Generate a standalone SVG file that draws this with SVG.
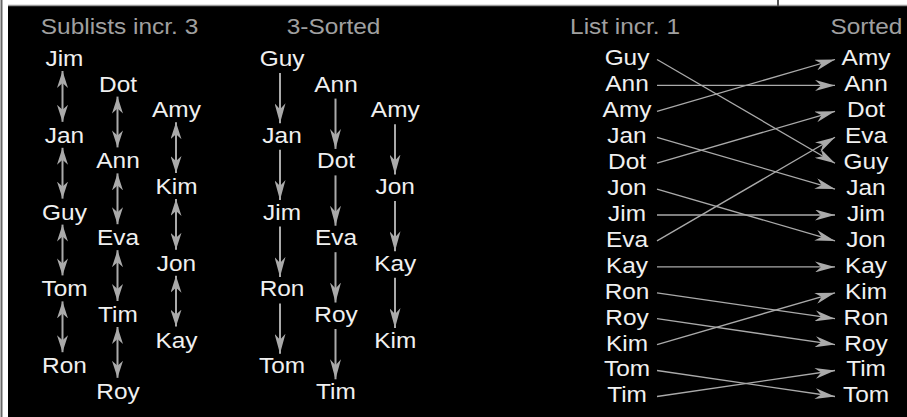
<svg xmlns="http://www.w3.org/2000/svg" width="907" height="417" viewBox="0 0 907 417">
<style>
.nm{font-family:"Liberation Sans",Arial,Helvetica,sans-serif;font-size:22px;fill:#f0f0f0;text-anchor:middle}
.hd{font-family:"Liberation Sans",Arial,Helvetica,sans-serif;font-size:22px;fill:#a0a0a0;text-anchor:middle}
.l1{stroke:#aaa;stroke-width:2;fill:none}
.l3{stroke:#aaa;stroke-width:1.3;fill:none}
.d{marker-start:url(#m1);marker-end:url(#m1)}
.s{marker-end:url(#m2)}
</style>
<defs>
<marker id="m1" markerUnits="userSpaceOnUse" viewBox="0 0 17 11" markerWidth="17" markerHeight="11" refX="17" refY="5.5" orient="auto-start-reverse"><path d="M17,5.5 L0,0 L5,5.5 L0,11 Z" fill="#aaa"/></marker>
<marker id="m2" markerUnits="userSpaceOnUse" viewBox="0 0 20 11" markerWidth="20" markerHeight="11" refX="20" refY="5.5" orient="auto"><path d="M20,5.5 L0,0 L6,5.5 L0,11 Z" fill="#aaa"/></marker>
</defs>
<rect width="907" height="417" fill="#fff"/>
<line x1="1.5" y1="0" x2="1.5" y2="417" stroke="#666" stroke-width="2"/>
<rect x="8" y="6" width="899" height="411" fill="#000"/>
<line x1="8" y1="5.5" x2="907" y2="5.5" stroke="#999" stroke-width="1.5"/>
<line x1="778" y1="0" x2="778" y2="6" stroke="#555" stroke-width="2"/>
<g id="connectors">
<g id="sublists">
<line class="l1 d" x1="62.5" y1="71" x2="62.5" y2="121.8"/>
<line class="l1 d" x1="62.5" y1="147.8" x2="62.5" y2="198.6"/>
<line class="l1 d" x1="62.5" y1="224.6" x2="62.5" y2="275.4"/>
<line class="l1 d" x1="62.5" y1="301.4" x2="62.5" y2="352.2"/>
<line class="l1 d" x1="117.5" y1="96.6" x2="117.5" y2="147.4"/>
<line class="l1 d" x1="117.5" y1="173.4" x2="117.5" y2="224.2"/>
<line class="l1 d" x1="117.5" y1="250.2" x2="117.5" y2="301"/>
<line class="l1 d" x1="117.5" y1="327" x2="117.5" y2="377.8"/>
<line class="l1 d" x1="176" y1="122.2" x2="176" y2="173"/>
<line class="l1 d" x1="176" y1="199" x2="176" y2="249.8"/>
<line class="l1 d" x1="176" y1="275.8" x2="176" y2="326.6"/>
</g>
<g id="sorted3">
<line class="l1 s" x1="280" y1="73" x2="280" y2="123.3"/>
<line class="l1 s" x1="280" y1="149.8" x2="280" y2="200.1"/>
<line class="l1 s" x1="280" y1="226.6" x2="280" y2="276.9"/>
<line class="l1 s" x1="280" y1="303.4" x2="280" y2="353.7"/>
<line class="l1 s" x1="335.5" y1="98.6" x2="335.5" y2="148.9"/>
<line class="l1 s" x1="335.5" y1="175.4" x2="335.5" y2="225.7"/>
<line class="l1 s" x1="335.5" y1="252.2" x2="335.5" y2="302.5"/>
<line class="l1 s" x1="335.5" y1="329" x2="335.5" y2="379.3"/>
<line class="l1 s" x1="395" y1="124.2" x2="395" y2="174.5"/>
<line class="l1 s" x1="395" y1="201" x2="395" y2="251.3"/>
<line class="l1 s" x1="395" y1="277.8" x2="395" y2="328.1"/>
</g>
<g id="final">
<line class="l3 s" x1="657" y1="59.5" x2="835" y2="163.2"/>
<line class="l3 s" x1="657" y1="85.4" x2="835" y2="85.4"/>
<line class="l3 s" x1="657" y1="111.3" x2="835" y2="59.5"/>
<line class="l3 s" x1="657" y1="137.3" x2="835" y2="189.1"/>
<line class="l3 s" x1="657" y1="163.2" x2="835" y2="111.3"/>
<line class="l3 s" x1="657" y1="189.1" x2="835" y2="240.9"/>
<line class="l3 s" x1="657" y1="215" x2="835" y2="215"/>
<line class="l3 s" x1="657" y1="240.9" x2="835" y2="137.3"/>
<line class="l3 s" x1="657" y1="266.9" x2="835" y2="266.9"/>
<line class="l3 s" x1="657" y1="292.8" x2="835" y2="318.7"/>
<line class="l3 s" x1="657" y1="318.7" x2="835" y2="344.6"/>
<line class="l3 s" x1="657" y1="344.6" x2="835" y2="292.8"/>
<line class="l3 s" x1="657" y1="370.5" x2="835" y2="396.5"/>
<line class="l3 s" x1="657" y1="396.5" x2="835" y2="370.5"/>
</g>
</g>
<g transform="scale(1.11 1)">
<g id="headers">
<text class="hd" x="107.7" y="34">Sublists incr. 3</text>
<text class="hd" x="300.5" y="34">3-Sorted</text>
<text class="hd" x="563.1" y="34">List incr. 1</text>
<text class="hd" x="780.6" y="34">Sorted</text>
</g>
<g id="c1-jim"><text class="nm" x="58.1" y="66">Jim</text></g>
<g id="c1-dot"><text class="nm" x="106.3" y="91.6">Dot</text></g>
<g id="c1-amy"><text class="nm" x="159" y="117.2">Amy</text></g>
<g id="c1-jan"><text class="nm" x="58.1" y="142.8">Jan</text></g>
<g id="c1-ann"><text class="nm" x="106.3" y="168.4">Ann</text></g>
<g id="c1-kim"><text class="nm" x="159" y="194">Kim</text></g>
<g id="c1-guy"><text class="nm" x="58.1" y="219.6">Guy</text></g>
<g id="c1-eva"><text class="nm" x="106.3" y="245.2">Eva</text></g>
<g id="c1-jon"><text class="nm" x="159" y="270.8">Jon</text></g>
<g id="c1-tom"><text class="nm" x="58.1" y="296.4">Tom</text></g>
<g id="c1-tim"><text class="nm" x="106.3" y="322">Tim</text></g>
<g id="c1-kay"><text class="nm" x="159" y="347.6">Kay</text></g>
<g id="c1-ron"><text class="nm" x="58.1" y="373.2">Ron</text></g>
<g id="c1-roy"><text class="nm" x="106.3" y="398.8">Roy</text></g>
<g id="c2-guy"><text class="nm" x="254.1" y="66">Guy</text></g>
<g id="c2-ann"><text class="nm" x="302.7" y="91.6">Ann</text></g>
<g id="c2-amy"><text class="nm" x="356.1" y="117.2">Amy</text></g>
<g id="c2-jan"><text class="nm" x="254.1" y="142.8">Jan</text></g>
<g id="c2-dot"><text class="nm" x="302.7" y="168.4">Dot</text></g>
<g id="c2-jon"><text class="nm" x="356.1" y="194">Jon</text></g>
<g id="c2-jim"><text class="nm" x="254.1" y="219.6">Jim</text></g>
<g id="c2-eva"><text class="nm" x="302.7" y="245.2">Eva</text></g>
<g id="c2-kay"><text class="nm" x="356.1" y="270.8">Kay</text></g>
<g id="c2-ron"><text class="nm" x="254.1" y="296.4">Ron</text></g>
<g id="c2-roy"><text class="nm" x="302.7" y="322">Roy</text></g>
<g id="c2-kim"><text class="nm" x="356.1" y="347.6">Kim</text></g>
<g id="c2-tom"><text class="nm" x="254.1" y="373.2">Tom</text></g>
<g id="c2-tim"><text class="nm" x="302.7" y="398.8">Tim</text></g>
<g id="l-guy"><text class="nm" x="564.9" y="65.5">Guy</text></g>
<g id="l-ann"><text class="nm" x="564.9" y="91.4">Ann</text></g>
<g id="l-amy"><text class="nm" x="564.9" y="117.3">Amy</text></g>
<g id="l-jan"><text class="nm" x="564.9" y="143.3">Jan</text></g>
<g id="l-dot"><text class="nm" x="564.9" y="169.2">Dot</text></g>
<g id="l-jon"><text class="nm" x="564.9" y="195.1">Jon</text></g>
<g id="l-jim"><text class="nm" x="564.9" y="221">Jim</text></g>
<g id="l-eva"><text class="nm" x="564.9" y="246.9">Eva</text></g>
<g id="l-kay"><text class="nm" x="564.9" y="272.9">Kay</text></g>
<g id="l-ron"><text class="nm" x="564.9" y="298.8">Ron</text></g>
<g id="l-roy"><text class="nm" x="564.9" y="324.7">Roy</text></g>
<g id="l-kim"><text class="nm" x="564.9" y="350.6">Kim</text></g>
<g id="l-tom"><text class="nm" x="564.9" y="376.5">Tom</text></g>
<g id="l-tim"><text class="nm" x="564.9" y="402.5">Tim</text></g>
<g id="r-amy"><text class="nm" x="780.2" y="65.5">Amy</text></g>
<g id="r-ann"><text class="nm" x="780.2" y="91.4">Ann</text></g>
<g id="r-dot"><text class="nm" x="780.2" y="117.3">Dot</text></g>
<g id="r-eva"><text class="nm" x="780.2" y="143.3">Eva</text></g>
<g id="r-guy"><text class="nm" x="780.2" y="169.2">Guy</text></g>
<g id="r-jan"><text class="nm" x="780.2" y="195.1">Jan</text></g>
<g id="r-jim"><text class="nm" x="780.2" y="221">Jim</text></g>
<g id="r-jon"><text class="nm" x="780.2" y="246.9">Jon</text></g>
<g id="r-kay"><text class="nm" x="780.2" y="272.9">Kay</text></g>
<g id="r-kim"><text class="nm" x="780.2" y="298.8">Kim</text></g>
<g id="r-ron"><text class="nm" x="780.2" y="324.7">Ron</text></g>
<g id="r-roy"><text class="nm" x="780.2" y="350.6">Roy</text></g>
<g id="r-tim"><text class="nm" x="780.2" y="376.5">Tim</text></g>
<g id="r-tom"><text class="nm" x="780.2" y="402.5">Tom</text></g>
</g>
</svg>
